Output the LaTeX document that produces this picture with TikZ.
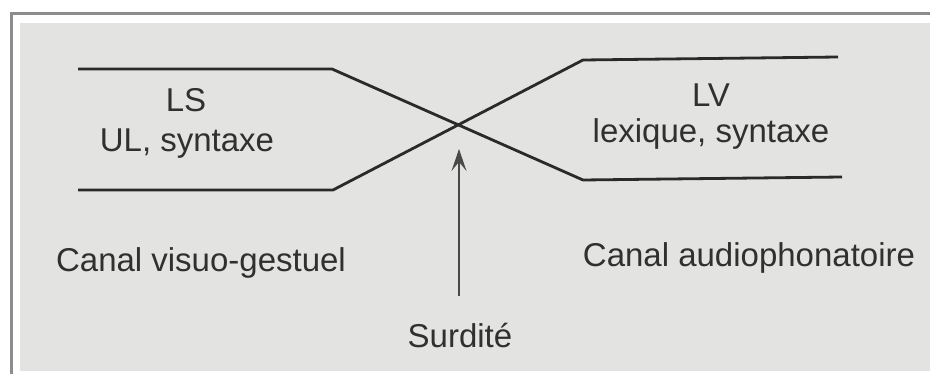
\documentclass[tikz,border=0pt]{standalone}
\usepackage{fontspec}
\setmainfont{Liberation Sans}
\usetikzlibrary{arrows.meta}
\definecolor{paper}{HTML}{E3E3E1}
\definecolor{framegray}{HTML}{8C8C8C}
\definecolor{ink}{HTML}{2A2A2A}
\definecolor{txt}{HTML}{303030}
\tikzset{
  lbl/.style={anchor=base, inner sep=0pt, text=txt, font=\fontsize{33}{39}\selectfont},
  channel/.style={draw=ink, line width=2.8pt, line join=miter},
  surdarrow/.style={draw=ink!85, line width=1.8pt, -{Stealth[length=22pt,width=15pt,inset=9pt]}}
}
\begin{document}
\begin{tikzpicture}[x=1pt,y=-1pt]
\useasboundingbox (0,0) rectangle (930,374);
\fill[white] (0,0) rectangle (930,374);
% frame
\fill[framegray] (10,12) rectangle (930,15);
\fill[framegray] (10,12) rectangle (13,374);
\fill[paper] (20,23) rectangle (930,371);
% channel coordinates
\coordinate (ltA) at (78,69);
\coordinate (ltB) at (332,69);
\coordinate (lbA) at (78,190);
\coordinate (lbB) at (333,190);
\coordinate (rtA) at (583,60);
\coordinate (rtB) at (838,57);
\coordinate (rbA) at (583,180);
\coordinate (rbB) at (842,177);
\draw[channel] (ltA) -- (ltB) -- (rbA) -- (rbB);
\draw[channel] (lbA) -- (lbB) -- (rtA) -- (rtB);
% labels
\node[lbl] (ls) at (186,112) {LS};
\node[lbl] (ul) at (187,152) {UL, syntaxe};
\node[lbl] (lv) at (711,107) {LV};
\node[lbl] (lex) at (711,143) {lexique, syntaxe};
\node[lbl] (cvg) at (201,272) {Canal visuo-gestuel};
\node[lbl] (cap) at (749,267) {Canal audiophonatoire};
\node[lbl] (surd) at (460,348) {Surdité};
% arrow
\coordinate (abase) at (459,296);
\coordinate (atip) at (459,149);
\draw[surdarrow] (abase) -- (atip);
\end{tikzpicture}
\end{document}
